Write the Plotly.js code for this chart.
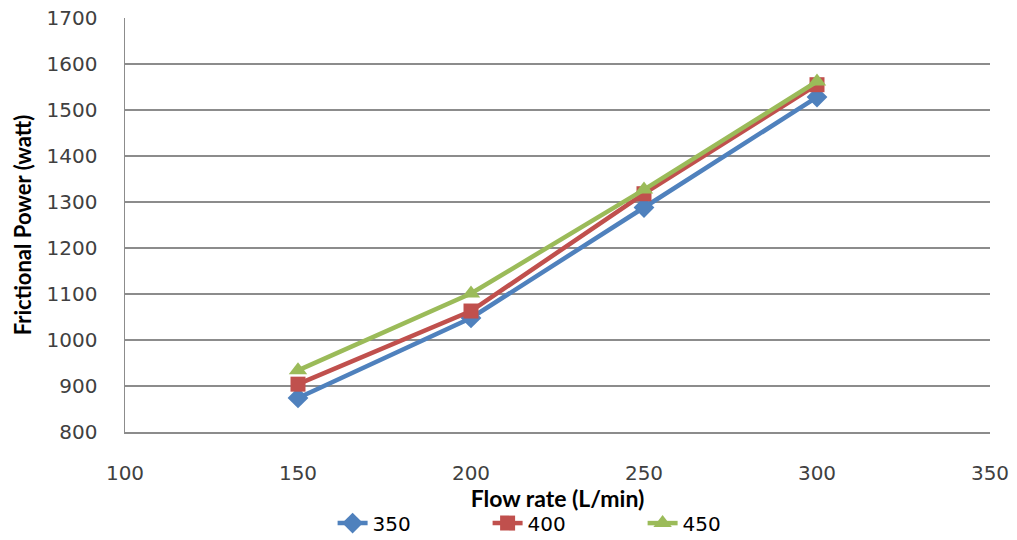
<!DOCTYPE html>
<html>
<head>
<meta charset="utf-8">
<script src="https://cdn.plot.ly/plotly-3.0.1.min.js"></script>
<style>html,body{margin:0;padding:0;background:#fff;}#chart{width:1017px;height:540px;}</style>
</head>
<body>
<div id="chart"></div>
<script>
const flowRate = [150, 200, 250, 300];
const series350 = [874, 1048, 1288, 1528];
const series400 = [904, 1063, 1318, 1555];
const series450 = [934, 1101, 1327, 1562];
const seriesNames = ['350', '400', '450'];
const xTicks = [100, 150, 200, 250, 300, 350];
const yTicks = [800, 900, 1000, 1100, 1200, 1300, 1400, 1500, 1600, 1700];

const colors = ['#4F81BD', '#C0504D', '#9BBB59'];
const symbols = ['diamond', 'square', 'triangle-up'];
const values = [series350, series400, series450];

const traces = values.map((v, i) => ({
  x: flowRate, y: v, name: seriesNames[i], type: 'scatter', mode: 'lines+markers',
  line: {color: colors[i], width: 4.5},
  marker: {color: colors[i], symbol: symbols[i], size: i === 1 ? 15 : 16}
}));

const tickFont = {family: 'DejaVu Sans, Verdana, sans-serif', size: 20, color: '#404040'};

const layout = {
  width: 1017, height: 540,
  margin: {l: 125, r: 27, t: 18, b: 108, autoexpand: false},
  paper_bgcolor: '#fff', plot_bgcolor: '#fff',
  font: tickFont,
  xaxis: {
    range: [100, 350], tickvals: xTicks, ticktext: xTicks.map(String),
    showgrid: false, zeroline: false, showline: true, linecolor: '#8c8c8c', linewidth: 1.5,
    ticks: '', ticklabelstandoff: 22, automargin: false,
    tickfont: tickFont,
    title: {text: 'Flow rate (L/min)', font: {family: 'Lato', size: 23, color: '#000', weight: 'bold'}, standoff: 5}
  },
  yaxis: {
    range: [800, 1700], tickvals: yTicks, ticktext: yTicks.map(String),
    showgrid: true, gridcolor: '#8c8c8c', gridwidth: 1.5, zeroline: false,
    showline: true, linecolor: '#8c8c8c', linewidth: 1.5,
    ticks: '', ticklabelstandoff: 22, automargin: false,
    tickfont: tickFont,
    title: {text: 'Frictional Power (watt)', font: {family: 'Lato', size: 22, color: '#000', weight: 'bold'}, standoff: 9}
  },
  showlegend: true,
  legend: {
    orientation: 'h', x: 0.24, xanchor: 'left', y: -0.22, yanchor: 'middle',
    font: {family: 'DejaVu Sans, Verdana, sans-serif', size: 20, color: '#000'},
    entrywidth: 110, tracegroupgap: 0
  }
};

Plotly.newPlot('chart', traces, layout, {displayModeBar: false, staticPlot: true});
</script>
</body>
</html>
